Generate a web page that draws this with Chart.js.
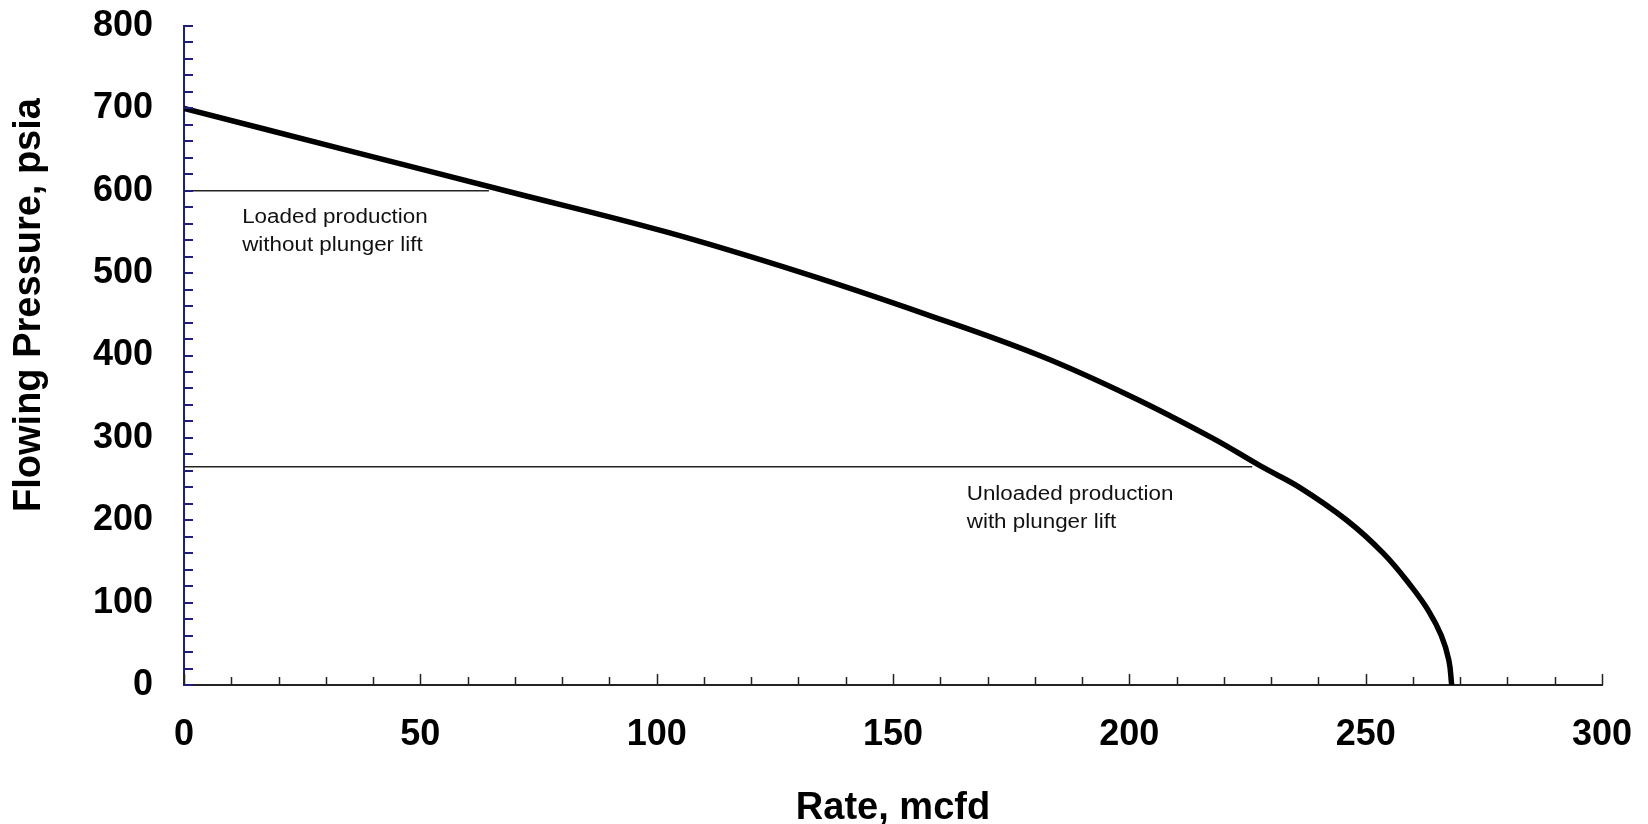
<!DOCTYPE html>
<html>
<head>
<meta charset="utf-8">
<title>Flowing Pressure vs Rate</title>
<script src="https://cdn.jsdelivr.net/npm/chart.js"></script>
<style>
  html, body { margin: 0; padding: 0; background: #fff; }
  #wrap { width: 1648px; height: 824px; position: relative; }
</style>
</head>
<body>
<div id="wrap"><canvas id="ipr"></canvas></div>
<script>
// inflow curve
var pressures = [700, 650, 600, 550, 500, 450, 400, 350, 300, 265, 240, 200, 160, 120, 90, 60, 30, 0];
var rates = [0, 34, 68, 102, 131, 157, 181, 200.5, 217.5, 228, 236, 246, 253.7, 259.6, 263.3, 266, 267.6, 268.2];

// operating lines (pressure, end rate)
var loadedLine = { p: 600, rates: [0, 64.5] };
var unloadedLine = { p: 265, rates: [0, 226] };

// notes: rate / pressure of the first line
var notes = [
    { x: 12.3, y: 567, lines: ['Loaded production', 'without plunger lift'] },
    { x: 165.6, y: 231, lines: ['Unloaded production', 'with plunger lift'] }
];

var xTicks = [0, 50, 100, 150, 200, 250, 300];
var yTicks = [0, 100, 200, 300, 400, 500, 600, 700, 800];
var xMinorStep = 10;
var yMinorStep = 20;
var yTitle = 'Flowing Pressure, psia';

var curve = rates.map(function(r, i) { return { x: r, y: pressures[i] }; });
function hline(l) { return l.rates.map(function(r) { return { x: r, y: l.p }; }); }

var navy = '#1f1f78';
var fontFam = '"Liberation Sans", Arial, sans-serif';

var extras = {
    id: 'extras',
    afterDatasetsDraw: function(chart) {
        var ctx = chart.ctx, xs = chart.scales.x, ys = chart.scales.y;
        ctx.save();
        // inward minor ticks
        ctx.lineWidth = 1.5;
        ctx.strokeStyle = '#222';
        ctx.beginPath();
        for (var v = xs.min; v <= xs.max; v += xMinorStep) {
            var px = Math.round(xs.getPixelForValue(v)) + 0.5;
            var len = (v % 50 === 0) ? 11 : 8;
            ctx.moveTo(px, ys.bottom);
            ctx.lineTo(px, ys.bottom - len);
        }
        ctx.stroke();
        ctx.strokeStyle = navy;
        ctx.lineWidth = 2;
        ctx.beginPath();
        for (var w = ys.min; w <= ys.max; w += yMinorStep) {
            var py = Math.round(ys.getPixelForValue(w));
            ctx.moveTo(xs.left, py);
            ctx.lineTo(xs.left + 9, py);
        }
        ctx.stroke();

        // annotation text
        ctx.fillStyle = '#111';
        ctx.font = '20px ' + fontFam;
        ctx.textBaseline = 'middle';
        notes.forEach(function(n) {
            var nx = xs.getPixelForValue(n.x);
            var ny = ys.getPixelForValue(n.y);
            n.lines.forEach(function(t, k) {
                ctx.save();
                ctx.translate(nx, ny + k * 28);
                ctx.scale(1.12, 1);
                ctx.fillText(t, 0, 0);
                ctx.restore();
            });
        });

        // y title sits above the axis middle in the original
        ctx.fillStyle = '#000';
        ctx.font = 'bold 38px ' + fontFam;
        ctx.textAlign = 'center';
        ctx.translate(30, 305);
        ctx.rotate(-Math.PI / 2);
        ctx.fillText(yTitle, 0, 0);
        ctx.restore();
    }
};

var ctx = document.getElementById('ipr').getContext('2d');
new Chart(ctx, {
    type: 'scatter',
    data: {
        datasets: [{
            data: curve,
            showLine: true,
            borderColor: '#000',
            borderWidth: 5.5,
            pointRadius: 0,
            tension: 0.4,
            borderCapStyle: 'butt'
        }, {
            data: hline(loadedLine),
            showLine: true,
            borderColor: '#222',
            borderWidth: 1.5,
            pointRadius: 0
        }, {
            data: hline(unloadedLine),
            showLine: true,
            borderColor: '#222',
            borderWidth: 1.5,
            pointRadius: 0
        }]
    },
    options: {
        responsive: true,
        maintainAspectRatio: false,
        animation: false,
        layout: { padding: { top: 26, right: 46, left: 0, bottom: 0 } },
        plugins: {
            legend: { display: false },
            tooltip: { enabled: false }
        },
        scales: {
            x: {
                type: 'linear',
                min: 0,
                max: 300,
                afterFit: function(s) { s.height = 139; s.paddingLeft = 0; s.paddingRight = 0; },
                afterBuildTicks: function(s) { s.ticks = xTicks.map(function(v) { return { value: v }; }); },
                grid: { display: false, drawTicks: false },
                border: { display: true, color: '#222', width: 2 },
                ticks: {
                    padding: 28,
                    color: '#000',
                    font: { family: fontFam, size: 36, weight: 'bold' }
                },
                title: {
                    display: true,
                    text: 'Rate, mcfd',
                    color: '#000',
                    padding: { top: 0, bottom: 0 },
                    font: { family: fontFam, size: 38, weight: 'bold', lineHeight: 0.8 }
                }
            },
            y: {
                type: 'linear',
                min: 0,
                max: 800,
                afterFit: function(s) { s.width = 184; s.paddingTop = 0; s.paddingBottom = 0; },
                afterBuildTicks: function(s) { s.ticks = yTicks.map(function(v) { return { value: v }; }); },
                grid: { display: false, drawTicks: false },
                border: { display: true, color: navy, width: 2 },
                ticks: {
                    padding: 31,
                    color: '#000',
                    font: { family: fontFam, size: 36, weight: 'bold' }
                },
                title: { display: false }
            }
        }
    },
    plugins: [extras]
});
</script>
</body>
</html>
